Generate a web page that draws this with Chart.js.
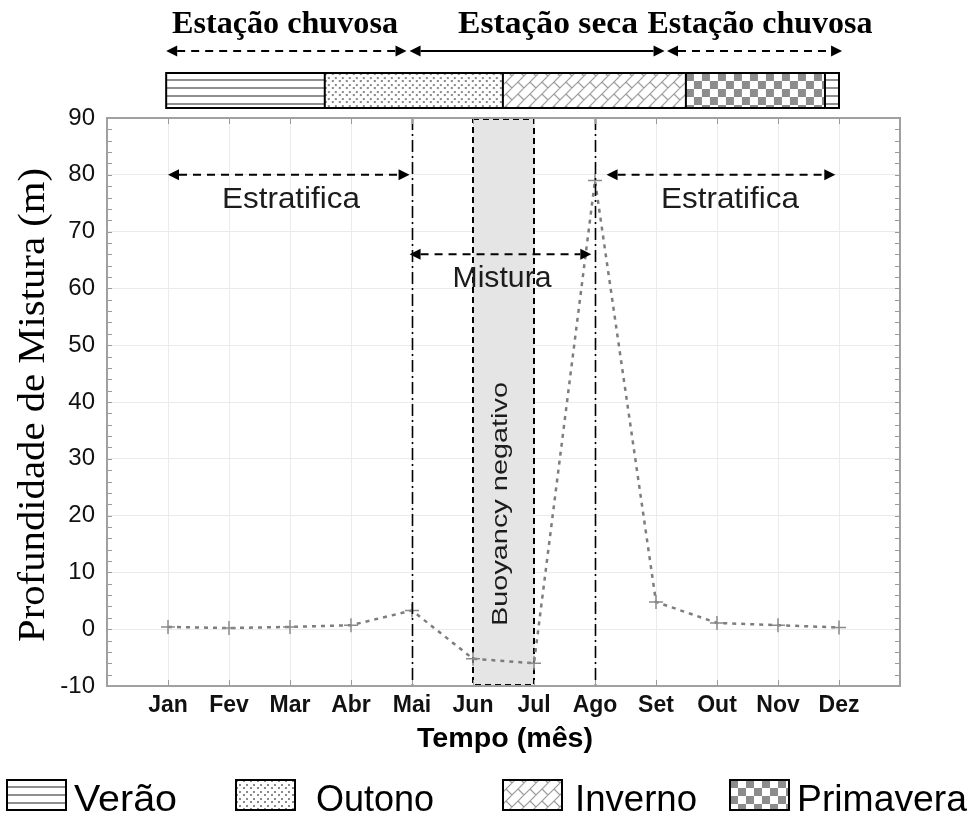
<!DOCTYPE html>
<html>
<head>
<meta charset="utf-8">
<script src="https://cdn.jsdelivr.net/npm/chart.js@4.4.1/dist/chart.umd.min.js"></script>
<style>
  html, body { margin: 0; padding: 0; background: #fff; }
  canvas { display: block; }
</style>
</head>
<body>
<canvas id="chart" width="972" height="821"></canvas>
<script>
// Monthly mixing depth (m)
const months = ['Jan', 'Fev', 'Mar', 'Abr', 'Mai', 'Jun', 'Jul', 'Ago', 'Set', 'Out', 'Nov', 'Dez'];
const mixingDepth = [0.4, 0.2, 0.4, 0.7, 3.3, -5.2, -6.0, 79, 4.8, 1.1, 0.7, 0.3];

// Axis range
const yMin = -10, yMax = 90, yStep = 10;

// Seasons along the year (in month units, Jan = 1)
const seasonNames = ['Verão', 'Outono', 'Inverno', 'Primavera'];
const seasonBandOrder = [0, 1, 2, 3, 0];
const seasonBandEdges = [0.97, 3.57, 6.49, 9.49, 11.77, 12.0];

// Rainy / dry periods
const periodNames = ['Estação chuvosa', 'Estação seca', 'Estação chuvosa'];
const periodStart = [0.97, 4.96, 9.18];
const periodEnd = [4.91, 9.14, 12.05];
const periodDashed = [true, false, true];

// Water column regimes
const regimeNames = ['Estratifica', 'Mistura', 'Estratifica'];
const regimeStart = [1, 4.96, 8.19];
const regimeEnd = [4.96, 7.94, 11.94];
const regimeDepth = [80, 66, 80];

// Transition months and negative buoyancy interval
const transitionMonths = [5, 8];
const buoyancyFrom = 6, buoyancyTo = 7;

// ---------- fill patterns for the seasons ----------
function makePattern(ctx, kind) {
  const c = document.createElement('canvas');
  const g = c.getContext('2d');
  if (kind === 0) {            // horizontal lines
    c.width = 8; c.height = 8;
    g.fillStyle = '#fff'; g.fillRect(0, 0, 8, 8);
    g.fillStyle = '#8f8f8f'; g.fillRect(0, 6, 8, 2);
  } else if (kind === 1) {     // stipple dots
    c.width = 7; c.height = 7;
    g.fillStyle = '#fff'; g.fillRect(0, 0, 7, 7);
    g.fillStyle = '#8a8a8a';
    g.fillRect(0, 0, 2, 2); g.fillRect(3, 4, 2, 2);
  } else if (kind === 2) {     // diagonal brick
    c.width = 12; c.height = 12;
    g.fillStyle = '#fff'; g.fillRect(0, 0, 12, 12);
    g.strokeStyle = '#9a9a9a'; g.lineWidth = 1.2;
    g.beginPath();
    g.moveTo(-2, 14); g.lineTo(14, -2);
    g.moveTo(-2, 2); g.lineTo(2, -2);
    g.moveTo(10, 14); g.lineTo(14, 10);
    g.moveTo(3, 9); g.lineTo(9, 15);
    g.moveTo(3, -3); g.lineTo(9, 3);
    g.stroke();
  } else {                     // checkerboard
    c.width = 16; c.height = 16;
    g.fillStyle = '#fff'; g.fillRect(0, 0, 16, 16);
    g.fillStyle = '#8c8c8c';
    g.fillRect(0, 0, 8, 8); g.fillRect(8, 8, 8, 8);
  }
  return ctx.createPattern(c, 'repeat');
}

function patternBox(ctx, pat, x, y, w, h) {
  ctx.save();
  ctx.translate(x, y);
  ctx.fillStyle = pat;
  ctx.fillRect(0, 0, w, h);
  ctx.restore();
}

// text stretched to a given run length
function fitText(ctx, text, x, y, font, len, angle, color) {
  ctx.save();
  ctx.font = font;
  ctx.fillStyle = color || '#000';
  ctx.textAlign = 'center';
  ctx.textBaseline = 'alphabetic';
  const w = ctx.measureText(text).width;
  ctx.translate(x, y);
  if (angle) ctx.rotate(angle);
  ctx.scale(len / w, 1);
  ctx.fillText(text, 0, 0);
  ctx.restore();
}

function arrow(ctx, x1, x2, y, dashed, lw) {
  const h = 11, w = 5.5;
  ctx.save();
  ctx.strokeStyle = '#000'; ctx.fillStyle = '#000'; ctx.lineWidth = lw;
  ctx.setLineDash(dashed ? [8, 6] : []);
  ctx.beginPath(); ctx.moveTo(x1 + h, y); ctx.lineTo(x2 - h, y); ctx.stroke();
  ctx.setLineDash([]);
  ctx.beginPath(); ctx.moveTo(x1, y); ctx.lineTo(x1 + h, y - w); ctx.lineTo(x1 + h, y + w); ctx.closePath(); ctx.fill();
  ctx.beginPath(); ctx.moveTo(x2, y); ctx.lineTo(x2 - h, y - w); ctx.lineTo(x2 - h, y + w); ctx.closePath(); ctx.fill();
  ctx.restore();
}

const decor = {
  id: 'decor',
  beforeDatasetsDraw(chart) {
    const { ctx, scales: { x, y } } = chart;
    // negative buoyancy interval
    const x0 = x.getPixelForValue(buoyancyFrom), x1 = x.getPixelForValue(buoyancyTo);
    const yt = y.getPixelForValue(yMax), yb = y.getPixelForValue(yMin);
    ctx.save();
    ctx.fillStyle = '#e5e5e5';
    ctx.fillRect(x0, yt, x1 - x0, yb - yt);
    ctx.strokeStyle = '#000'; ctx.lineWidth = 2; ctx.setLineDash([6, 4]);
    ctx.strokeRect(x0, yt + 1, x1 - x0, yb - yt - 2);
    ctx.restore();
  },
  afterDatasetsDraw(chart) {
    const { ctx, scales: { x, y } } = chart;
    const yt = y.getPixelForValue(yMax), yb = y.getPixelForValue(yMin);
    // transition lines (dash-dot)
    ctx.save();
    ctx.strokeStyle = '#000'; ctx.lineWidth = 1.6; ctx.setLineDash([12, 4, 2, 4]);
    transitionMonths.forEach(m => {
      const px = Math.round(x.getPixelForValue(m)) + 0.5;
      ctx.beginPath(); ctx.moveTo(px, yt); ctx.lineTo(px, yb); ctx.stroke();
    });
    ctx.restore();
    // regime arrows
    regimeNames.forEach((n, i) => {
      arrow(ctx, x.getPixelForValue(regimeStart[i]), x.getPixelForValue(regimeEnd[i]),
            y.getPixelForValue(regimeDepth[i]), true, 2);
    });
    const f = '29px "Liberation Sans"';
    fitText(ctx, regimeNames[0], 291, 208, f, 138, 0, '#1c1c1c');
    fitText(ctx, regimeNames[1], 502, 287, f, 99, 0, '#1c1c1c');
    fitText(ctx, regimeNames[2], 730, 208, f, 138, 0, '#1c1c1c');
    fitText(ctx, 'Buoyancy negativo', 507, 504, '22px "Liberation Sans"', 244, -Math.PI / 2, '#1c1c1c');
  },
  afterDraw(chart) {
    const { ctx, chartArea: a, scales: { x, y } } = chart;
    ctx.save();
    // inner ticks
    ctx.strokeStyle = '#9a9a9a'; ctx.lineWidth = 1;
    ctx.beginPath();
    for (let v = yMin; v <= yMax; v += 2) {
      const py = Math.round(y.getPixelForValue(v)) + 0.5;
      ctx.moveTo(a.left, py); ctx.lineTo(a.left + 5, py);
      ctx.moveTo(a.right, py); ctx.lineTo(a.right - 5, py);
    }
    for (let m = 1; m <= months.length; m++) {
      const px = Math.round(x.getPixelForValue(m)) + 0.5;
      ctx.moveTo(px, a.bottom); ctx.lineTo(px, a.bottom - 6);
      ctx.moveTo(px, a.top); ctx.lineTo(px, a.top + 6);
    }
    ctx.stroke();
    // plot frame
    ctx.strokeStyle = '#a0a0a0'; ctx.lineWidth = 2;
    ctx.strokeRect(a.left, a.top, a.right - a.left, a.bottom - a.top);
    ctx.restore();

    const pats = [0, 1, 2, 3].map(k => makePattern(ctx, k));

    // season band above the plot
    const bt = 73, bh = 35;
    seasonBandOrder.forEach((s, i) => {
      const l = x.getPixelForValue(seasonBandEdges[i]);
      const r = x.getPixelForValue(seasonBandEdges[i + 1]);
      patternBox(ctx, pats[s], l, bt, r - l, bh);
    });
    ctx.save();
    ctx.strokeStyle = '#000'; ctx.lineWidth = 2;
    const bl = x.getPixelForValue(seasonBandEdges[0]);
    const br = x.getPixelForValue(seasonBandEdges[seasonBandEdges.length - 1]);
    ctx.strokeRect(bl, bt, br - bl, bh);
    ctx.beginPath();
    for (let i = 1; i < seasonBandEdges.length - 1; i++) {
      const px = x.getPixelForValue(seasonBandEdges[i]);
      ctx.moveTo(px, bt); ctx.lineTo(px, bt + bh);
    }
    ctx.stroke();
    ctx.restore();

    // rainy / dry period arrows and labels
    const labelCenters = [285, 548, 760];
    const labelWidths = [226, 180, 225];
    periodNames.forEach((n, i) => {
      arrow(ctx, x.getPixelForValue(periodStart[i]), x.getPixelForValue(periodEnd[i]), 51, periodDashed[i], 2);
      fitText(ctx, n, labelCenters[i], 33, 'bold 31px "Liberation Serif"', labelWidths[i], 0, '#000');
    });

    // axis titles
    fitText(ctx, 'Profundidade de Mistura (m)', 44, 405, '37px "Liberation Serif"', 474, -Math.PI / 2, '#000');
    fitText(ctx, 'Tempo (mês)', 505, 747, 'bold 27px "Liberation Sans"', 176, 0, '#000');

    // season legend
    const boxX = [7, 236, 503, 730];
    const textX = [74, 316, 575, 797];
    const textW = [103, 118, 122, 170];
    seasonNames.forEach((n, i) => {
      patternBox(ctx, pats[i], boxX[i], 780, 59, 30);
      ctx.save();
      ctx.strokeStyle = '#000'; ctx.lineWidth = 2;
      ctx.strokeRect(boxX[i], 780, 59, 30);
      ctx.restore();
      fitText(ctx, n, textX[i] + textW[i] / 2, 811, '37px "Liberation Sans"', textW[i], 0, '#000');
    });
  }
};

const ctx = document.getElementById('chart').getContext('2d');
new Chart(ctx, {
  type: 'line',
  data: {
    datasets: [{
      label: 'Profundidade de Mistura (m)',
      data: months.map((m, i) => ({ x: i + 1, y: mixingDepth[i] })),
      borderColor: '#7d7d7d',
      borderDash: [4, 5],
      borderWidth: 2.5,
      tension: 0,
      fill: false,
      pointStyle: 'cross',
      pointRadius: 7,
      pointBorderColor: '#8a8a8a',
      pointBorderWidth: 1.5
    }]
  },
  options: {
    responsive: false,
    animation: false,
    devicePixelRatio: 1,
    layout: { padding: { top: 118, right: 72, left: 0, bottom: 0 } },
    plugins: { legend: { display: false }, tooltip: { enabled: false } },
    scales: {
      x: {
        type: 'linear',
        min: 0,
        max: months.length + 1,
        afterFit(s) { s.height = 135; },
        afterBuildTicks(s) { s.ticks = Array.from({ length: months.length + 2 }, (_, i) => ({ value: i })); },
        ticks: {
          autoSkip: false,
          maxRotation: 0,
          callback: v => months[v - 1] || '',
          font: { family: 'Liberation Sans', size: 23, weight: 'bold' },
          color: '#111',
          padding: 6
        },
        grid: { color: '#ebebeb', drawTicks: false },
        border: { display: false }
      },
      y: {
        min: yMin,
        max: yMax,
        afterFit(s) { s.width = 107; },
        ticks: {
          stepSize: yStep,
          font: { family: 'Liberation Sans', size: 24 },
          color: '#111',
          padding: 12
        },
        grid: { color: '#ebebeb', drawTicks: false },
        border: { display: false }
      }
    }
  },
  plugins: [decor]
});
</script>
</body>
</html>
